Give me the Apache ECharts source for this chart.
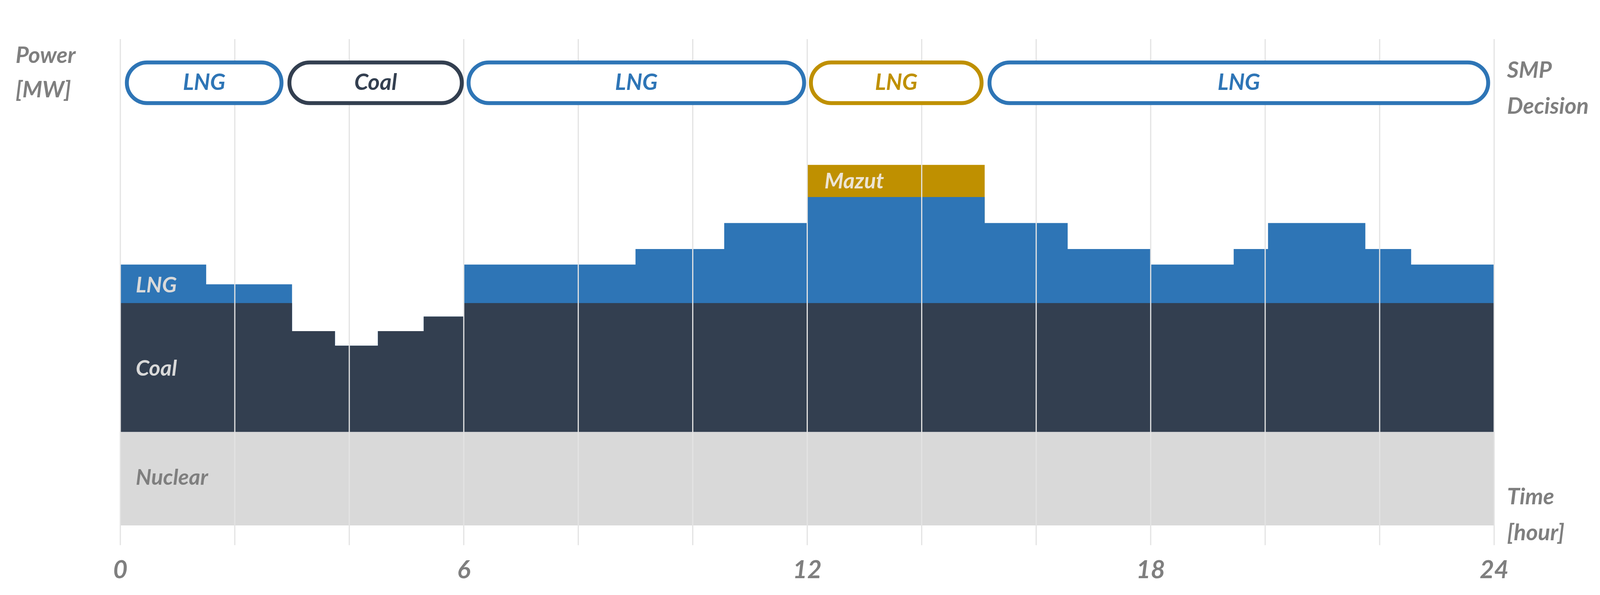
<!DOCTYPE html>
<html>
<head>
<meta charset="utf-8">
<script src="https://cdn.jsdelivr.net/npm/echarts@6/dist/echarts.min.js"></script>
<style>
  html, body { margin: 0; padding: 0; background: #fff; }
  #chart { width: 4164px; height: 1522px; }
</style>
</head>
<body>
<div id="chart"></div>
<script>
// Step profiles: [hour, cumulative level] held until the next hour (step 'end')
const nuclearTop = [[0, 90], [24, 90]];
const coalTop = [[0, 214], [3, 187], [3.75, 173], [4.5, 187], [5.3, 201], [6, 214], [24, 214]];
const lngTop = [[0, 251], [1.5, 232], [3, 187], [3.75, 173], [4.5, 187], [5.3, 201], [6, 251],
  [9, 266], [10.55, 291], [12, 316], [15.1, 291], [16.55, 266], [18, 251], [19.45, 266],
  [20.05, 291], [21.75, 266], [22.55, 251], [24, 251]];
const mazutTop = [[12, 347], [15.1, 347]];

// SMP decision pills: [start hour, end hour, label, colour key]
const smpBlocks = [
  [0.08, 2.85, 'LNG', 'lng'],
  [2.92, 6.0, 'Coal', 'coal'],
  [6.05, 11.98, 'LNG', 'lng'],
  [12.03, 15.08, 'LNG', 'mazut'],
  [15.15, 23.93, 'LNG', 'lng']
];
const gridHours = [0, 2, 4, 6, 8, 10, 12, 14, 16, 18, 20, 22, 24];
const xTicks = [0, 6, 12, 18, 24];

// In-area series labels: [hour, level, text, colour key]
const areaLabels = [
  [0.27, 231, 'LNG', 'light'],
  [0.27, 151, 'Coal', 'light'],
  [0.27, 46, 'Nuclear', 'grey'],
  [12.3, 331, 'Mazut', 'mazutText']
];

const colors = {
  lng: '#2e75b6', coal: '#333f50', mazut: '#bf9000', nuclear: '#d9d9d9',
  light: '#d9d9d9', grey: '#7f7f7f', mazutText: '#ece4d4'
};
const FONT = 'Lato';

function stepArea(name, data, color, z) {
  return {
    name, type: 'line', step: 'end', data, symbol: 'none', z,
    lineStyle: { width: 0 }, areaStyle: { color, opacity: 1, origin: 'start' },
    itemStyle: { color }, silent: true
  };
}

const chart = echarts.init(document.getElementById('chart'));
chart.setOption({
  animation: false,
  grid: { left: 308, right: 339, top: 100, bottom: 178 },
  xAxis: {
    type: 'value', min: 0, max: 24, interval: 6,
    axisLine: { show: false }, axisTick: { show: false }, splitLine: { show: false },
    axisLabel: {
      margin: 82, color: '#7f7f7f', fontSize: 64, fontWeight: 'bold', fontStyle: 'italic', fontFamily: FONT,
      formatter: v => xTicks.includes(v) ? String(v) : ''
    }
  },
  yAxis: { type: 'value', min: 0, max: 468, show: false },
  graphic: [
    { type: 'text', left: 40, top: 98, style: { text: 'Power\n[MW]', fill: '#7f7f7f', font: `italic bold 58px ${FONT}`, lineHeight: 88 } },
    { type: 'text', left: 3858, top: 134, style: { text: 'SMP\nDecision', fill: '#7f7f7f', font: `italic bold 58px ${FONT}`, lineHeight: 92 } },
    { type: 'text', left: 3858, top: 1225, style: { text: 'Time\n[hour]', fill: '#7f7f7f', font: `italic bold 58px ${FONT}`, lineHeight: 92 } }
  ],
  series: [
    stepArea('Mazut', mazutTop, colors.mazut, 1),
    stepArea('LNG', lngTop, colors.lng, 2),
    stepArea('Coal', coalTop, colors.coal, 3),
    stepArea('Nuclear', nuclearTop, colors.nuclear, 4),
    {
      type: 'custom', z: 10, silent: true, clip: false,
      data: gridHours.map(h => [h]),
      renderItem: (params, api) => {
        const top = api.coord([api.value(0), 468]);
        const bot = api.coord([api.value(0), -19]);
        return { type: 'line', shape: { x1: top[0], y1: top[1], x2: bot[0], y2: bot[1] },
          style: { stroke: '#e3e3e3', lineWidth: 3 } };
      }
    },
    {
      type: 'custom', z: 20, silent: true,
      data: smpBlocks.map(b => [b[0], b[1], b[2], b[3]]),
      renderItem: (params, api) => {
        const b = smpBlocks[params.dataIndex];
        const a = api.coord([b[0], 426]);
        const c = api.coord([b[1], 426]);
        const h = 104;
        const col = colors[b[3]];
        return {
          type: 'group',
          children: [
            { type: 'rect', shape: { x: a[0] + 5, y: a[1] - h / 2, width: c[0] - a[0] - 10, height: h, r: h / 2 },
              style: { fill: '#fff', stroke: col, lineWidth: 10 } },
            { type: 'text', x: (a[0] + c[0]) / 2, y: a[1],
              style: { text: b[2], fill: col, font: `italic bold 58px ${FONT}`, align: 'center', verticalAlign: 'middle' } }
          ]
        };
      }
    },
    {
      type: 'custom', z: 30, silent: true,
      data: areaLabels.map(l => [l[0], l[1]]),
      renderItem: (params, api) => {
        const l = areaLabels[params.dataIndex];
        const p = api.coord([l[0], l[1]]);
        return { type: 'text', x: p[0], y: p[1],
          style: { text: l[2], fill: colors[l[3]], font: `italic bold 56px ${FONT}`, align: 'left', verticalAlign: 'middle' } };
      }
    }
  ]
});
</script>
</body>
</html>
